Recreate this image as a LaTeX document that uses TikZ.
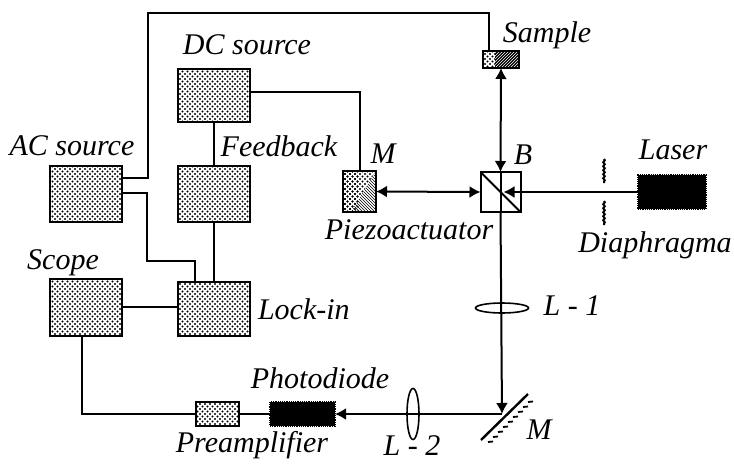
\documentclass[tikz,border=0pt]{standalone}
\usepackage{fontspec}
\setmainfont{Liberation Serif}
\usepackage{tikz}
\usetikzlibrary{shapes.geometric, arrows.meta, positioning, patterns,
                decorations.pathmorphing}
\pgfdeclarepatternformonly{halftone}{\pgfqpoint{-1pt}{-1pt}}{\pgfqpoint{5pt}{5pt}}{\pgfqpoint{5pt}{5pt}}{
  \pgfpathcircle{\pgfqpoint{0pt}{0pt}}{1.05pt}
  \pgfpathcircle{\pgfqpoint{2.5pt}{2.5pt}}{1.05pt}
  \pgfusepath{fill}
}

\begin{document}
\begin{tikzpicture}[
  x=1pt, y=-1pt,
  block/.style={rectangle, draw, line width=2pt, pattern=halftone,
               minimum width=72pt, minimum height=#1, inner sep=0pt, outer sep=0pt},
  block/.default=56pt,
  dark/.style={rectangle, draw, densely dotted, line width=1.2pt, fill=black,
               minimum width=#1, minimum height=24pt, inner sep=0pt, outer sep=0pt},
  lbl/.style={font=\fontsize{30}{30}\selectfont\itshape, inner sep=0pt, outer sep=0pt},
  lens/.style={ellipse, draw, line width=1.6pt, inner sep=0pt, outer sep=0pt},
  wire/.style={line width=2pt},
  beam/.style={line width=2pt, >={Latex[length=11pt,width=12pt]}}
]
\useasboundingbox (0,0) rectangle (734,464);
% electronics
\node[block=53pt] (DC) at (214,95.5) {};
\node[block, below=44pt of DC] (FB) {};
\node[block, left=56pt of FB] (AC) {};
\node[block=57pt, below=57pt of AC] (SC) {};
\node[block=54pt, below=60pt of FB] (LI) {};
\node[block=24pt, minimum width=43pt] (PA) at (217.5,414) {};
\node[dark=65pt] (PD) at (302.5,414) {};
% optics
\node[draw, line width=2pt, minimum size=40pt, inner sep=0pt, outer sep=0pt] (BS) at (500.5,192) {};
\node[dark=68pt, minimum height=34pt] (LA) at (672,192) {};
\node[draw, line width=1.8pt, minimum width=36pt, minimum height=17pt, inner sep=0pt, outer sep=0pt,
      path picture={
        \fill[black] (path picture bounding box.north west) rectangle (path picture bounding box.south east);
        \fill[pattern=north east lines, pattern color=white] (path picture bounding box.north west) rectangle (path picture bounding box.south east);
        \fill[white] (path picture bounding box.north west) rectangle ([xshift=12pt]path picture bounding box.south west);
        \fill[pattern=halftone] (path picture bounding box.north west) rectangle ([xshift=12pt]path picture bounding box.south west);
      }] (SA) at (501,59.5) {};
\node[draw, line width=2pt, minimum width=33pt, minimum height=41pt, inner sep=0pt, outer sep=0pt,
      pattern=halftone,
      path picture={
        \fill[white] (path picture bounding box.north east) -- (path picture bounding box.south east) -- ([xshift=8pt]path picture bounding box.south west) -- cycle;
        \fill[pattern=north west lines] (path picture bounding box.north east) -- (path picture bounding box.south east) -- ([xshift=8pt]path picture bounding box.south west) -- cycle;
        \fill[pattern=halftone] (path picture bounding box.north west) -- ([xshift=16pt]path picture bounding box.north west) -- ([xshift=16pt]path picture bounding box.south west) -- (path picture bounding box.south west) -- cycle;
      }] (PZ) at (359.5,191.5) {};
\coordinate (MR) at (502,414);
\node[lens, minimum width=53pt, minimum height=10pt] (L1) at (502,308) {};
\node[lens, minimum width=12pt, minimum height=51pt] (L2) at (413,414) {};
% wires
\coordinate (topbend) at (148,13);
\coordinate (lowbend) at (147,261);
\draw[wire] (DC) -- (FB);
\draw[wire] (FB) -- (LI);
\draw[wire] ([yshift=0.5pt]SC.east) -- ([yshift=0.5pt]SC.east -| LI.west);
\draw[wire] ([yshift=3.5pt]DC.east) -| (PZ.north);
\draw[wire] ([yshift=16pt]AC.east) -| (topbend) -| ([xshift=-12pt]SA.north);
\draw[wire] ([yshift=1pt]AC.east) -| (lowbend) -| ([xshift=-19pt]LI.north);
\draw[wire] ([xshift=-4pt]SC.south) |- (PA.west);
\draw[wire] (PA) -- (PD);
% beams
\draw[beam, <->] (SA.south) -- (BS.north);
\draw[beam, <->] (PZ.east) -- (BS.west);
\draw[beam, ->] (LA.west) -- ([xshift=3pt]BS.center);
\draw[beam, ->] (BS.south) -- (MR);
\draw[beam] (BS.north) -- (BS.south);
\draw[beam, ->] (MR) -- (PD.east);
\draw[line width=2pt] (BS.north west) -- (BS.south east);
% mirror
\draw[line width=2.4pt] (481,440) -- (528,394);
\foreach \i in {0,...,8} {
  \draw[line width=1.8pt] (488+5*\i,442-5*\i) -- ++(5,-0.5);
}
% diaphragm
\draw[wire, decorate, decoration={snake, amplitude=0.8pt, segment length=4pt}] (604,159) -- (604,183);
\draw[wire, decorate, decoration={snake, amplitude=0.8pt, segment length=4pt}] (604,201) -- (604,225);
% labels
\node[lbl, above=14pt of DC, xshift=33pt] (DClbl) {DC source};
\node[lbl] (AClbl) at (72,146) {AC source};
\node[lbl] (FBlbl) at (279,146) {Feedback};
\node[lbl] (SClbl) at (63,263) {Scope};
\node[lbl, right=8pt of LI] (LIlbl) {Lock-in};
\node[lbl] (Mlbl) at (383,154) {M};
\node[lbl] (Blbl) at (523,155) {B};
\node[lbl] (SAlbl) at (547,35) {Sample};
\node[lbl] (LAlbl) at (673,150) {Laser};
\node[lbl] (DIlbl) at (655,245) {Diaphragma};
\node[lbl] (PZlbl) at (409,230) {Piezoactuator};
\node[lbl] (L1lbl) at (572,306) {L - 1};
\node[lbl] (PDlbl) at (320,378) {Photodiode};
\node[lbl] (PAlbl) at (252,445) {Preamplifier};
\node[lbl] (L2lbl) at (412,446) {L - 2};
\node[lbl] (M2lbl) at (539,430) {M};
\end{tikzpicture}
\end{document}
